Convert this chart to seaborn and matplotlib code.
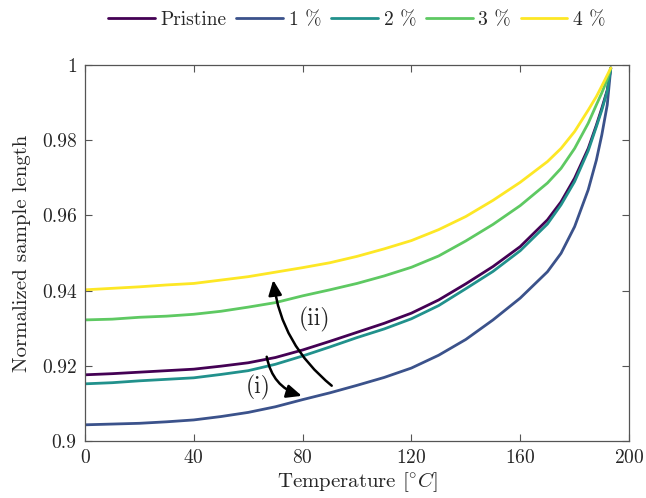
import numpy as np
import pandas as pd
import matplotlib
matplotlib.use("Agg")
import matplotlib.pyplot as plt
from matplotlib.ticker import FuncFormatter
import seaborn as sns

# Temperature samples [deg C]
temperature = [0, 10, 20, 30, 40, 50, 60, 70, 80, 90, 100, 110, 120, 130, 140,
               150, 160, 170, 175, 180, 185, 188, 190, 192, 193.3]

# Normalized sample length for each sample
pristine = [0.9176, 0.9179, 0.9183, 0.9187, 0.9191, 0.9199, 0.9208, 0.9222, 0.9242,
            0.9265, 0.9289, 0.9313, 0.9340, 0.9375, 0.9418, 0.9464, 0.9517, 0.9588,
            0.9636, 0.9699, 0.9778, 0.9840, 0.9885, 0.9933, 0.9992]
one_pct = [0.9043, 0.9045, 0.9047, 0.9051, 0.9056, 0.9065, 0.9076, 0.9091, 0.9110,
           0.9128, 0.9148, 0.9169, 0.9194, 0.9228, 0.9270, 0.9322, 0.9380, 0.9450,
           0.9499, 0.9570, 0.9668, 0.9747, 0.9814, 0.9894, 0.9992]
two_pct = [0.9152, 0.9155, 0.9160, 0.9164, 0.9168, 0.9177, 0.9187, 0.9204, 0.9226,
           0.9250, 0.9275, 0.9298, 0.9325, 0.9360, 0.9405, 0.9451, 0.9506, 0.9577,
           0.9628, 0.9690, 0.9772, 0.9836, 0.9880, 0.9931, 0.9992]
three_pct = [0.9322, 0.9324, 0.9329, 0.9332, 0.9337, 0.9345, 0.9356, 0.9368, 0.9386,
             0.9402, 0.9419, 0.9439, 0.9462, 0.9492, 0.9532, 0.9576, 0.9626, 0.9686,
             0.9725, 0.9778, 0.9845, 0.9894, 0.9926, 0.9962, 0.9992]
four_pct = [0.9402, 0.9406, 0.9410, 0.9415, 0.9419, 0.9428, 0.9437, 0.9449, 0.9461,
            0.9474, 0.9491, 0.9511, 0.9533, 0.9562, 0.9597, 0.9640, 0.9688, 0.9743,
            0.9778, 0.9823, 0.9880, 0.9916, 0.9944, 0.9973, 0.9992]

labels = ["Pristine", "1 %", "2 %", "3 %", "4 %"]
series = [pristine, one_pct, two_pct, three_pct, four_pct]

x_ticks = [0, 40, 80, 120, 160, 200]
y_ticks = [0.90, 0.92, 0.94, 0.96, 0.98, 1.00]

df = pd.concat(
    [pd.DataFrame({"T": temperature, "L": vals, "sample": lab}) for lab, vals in zip(labels, series)],
    ignore_index=True,
)

sns.set_style("ticks")
plt.rcParams["font.family"] = ["cmr10", "DejaVu Serif"]
plt.rcParams["mathtext.fontset"] = "cm"
plt.rcParams["axes.formatter.use_mathtext"] = True

cmap = plt.get_cmap("viridis")
palette = dict(zip(labels, [cmap(v) for v in (0.0, 0.25, 0.5, 0.75, 1.0)]))

fig = plt.figure(figsize=(6.46, 4.98), dpi=100)
ax = fig.add_axes([0.1316, 0.1145, 0.8421, 0.755])

sns.lineplot(data=df, x="T", y="L", hue="sample", palette=palette, linewidth=2.0,
             ax=ax, legend=True, sort=False)

ax.set_xlim(0, 200)
ax.set_ylim(0.9, 1.0)
ax.set_xticks(x_ticks)
ax.set_yticks(y_ticks)
ax.yaxis.set_major_formatter(FuncFormatter(lambda v, p: f"{v:g}"))
ax.tick_params(direction="in", length=5, width=0.8, color="#555555",
               top=True, right=True, labelsize=14, pad=6)
for s in ax.spines.values():
    s.set_visible(True)
    s.set_color("#555555")
    s.set_linewidth(0.9)

ax.set_xlabel(r"Temperature [$^{\circ}C$]", fontsize=15, labelpad=2)
ax.set_ylabel("Normalized sample length", fontsize=15, labelpad=8)

handles, lab = ax.get_legend_handles_labels()
ax.legend(handles, lab, loc="center", bbox_to_anchor=(0.5, 1.12), ncol=5, frameon=False,
          fontsize=14, handlelength=2.4, handletextpad=0.3, columnspacing=0.5,
          borderaxespad=0)

# Curved arrows indicating trends
arrow_kw = dict(arrowstyle="-|>,head_length=0.9,head_width=0.4", color="black", lw=1.8,
                shrinkA=0, shrinkB=0)
ax.annotate("", xy=(79.7, 0.9120), xytext=(66.8, 0.9224),
            arrowprops=dict(connectionstyle="arc3,rad=0.3", **arrow_kw))
ax.annotate("", xy=(69.2, 0.9428), xytext=(90.7, 0.9147),
            arrowprops=dict(connectionstyle="arc3,rad=-0.2", **arrow_kw))
ax.text(63.5, 0.9143, "(i)", fontsize=17, ha="center", va="center")
ax.text(84.5, 0.9322, "(ii)", fontsize=17, ha="center", va="center")

fig.savefig("out.png", dpi=100)
